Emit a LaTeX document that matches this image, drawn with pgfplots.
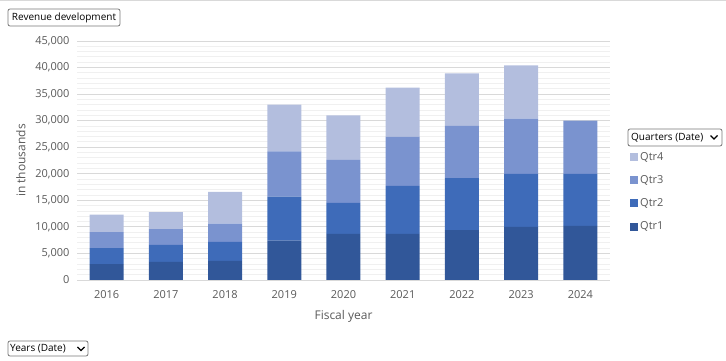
\documentclass[border=0pt]{standalone}
\usepackage{fontspec}
\setmainfont{Open Sans}
\usepackage{pgfplots}
\pgfplotsset{compat=1.18}
\definecolor{qa}{RGB}{49,87,153}
\definecolor{qb}{RGB}{62,107,185}
\definecolor{qc}{RGB}{122,147,207}
\definecolor{qd}{RGB}{179,190,222}
\definecolor{txt}{RGB}{89,89,89}
\definecolor{gmaj}{RGB}{217,217,217}
\definecolor{gmin}{RGB}{240,240,240}
\definecolor{btn}{RGB}{118,118,118}
\begin{document}
\begin{tikzpicture}[x=1pt,y=1pt]
\path[use as bounding box] (0,0) rectangle (726,361);
\draw[gmaj,line width=1pt] (0,360.5) -- (726,360.5);
\begin{axis}[
  at={(77pt,81pt)}, anchor=south west,
  scale only axis, width=533pt, height=239pt,
  ybar stacked, bar width=34pt,
  xmin=-0.5, xmax=8.5, ymin=0, ymax=45000,
  xtick={0,...,8},
  xticklabels={2016,2017,2018,2019,2020,2021,2022,2023,2024},
  ytick={0,5000,...,45000},
  minor y tick num=4,
  ymajorgrids, yminorgrids,
  major grid style={color=gmaj, line width=0.9pt},
  minor grid style={color=gmin, line width=0.9pt},
  axis line style={draw=none},
  major tick style={draw=none}, minor tick style={draw=none},
  scaled y ticks=false,
  ticklabel style={color=txt, font=\fontsize{11}{13}\selectfont},
  yticklabel style={xshift=-4pt},
  xticklabel style={yshift=-7pt},
  /pgf/number format/.cd, 1000 sep={,}, assume math mode=true, /pgfplots/.cd,
  xlabel={Fiscal year},
  xlabel style={color=txt, font=\fontsize{12}{14}\selectfont, yshift=-5pt},
  ylabel={in thousands},
  ylabel style={color=txt, font=\fontsize{12}{14}\selectfont, yshift=3pt},
  reverse legend,
  legend image code/.code={\fill[#1,draw=none] (0pt,-4pt) rectangle (8pt,4pt);},
  legend style={at={(1.032,0.553)}, anchor=north west, draw=none, fill=none,
    font=\fontsize{11}{13}\selectfont, text=txt, row sep=9.8pt,
    /tikz/every even column/.append style={column sep=0pt}},
  legend cell align=left,
]
\addplot[fill=qa, draw=none] coordinates {(0,3000) (1,3400) (2,3600) (3,7400) (4,8700) (5,8700) (6,9400) (7,10000) (8,10200)};
\addplot[fill=qb, draw=none] coordinates {(0,3000) (1,3200) (2,3600) (3,8300) (4,5800) (5,9000) (6,9800) (7,10000) (8,9800)};
\addplot[fill=qc, draw=none] coordinates {(0,3000) (1,3000) (2,3400) (3,8500) (4,8100) (5,9300) (6,9800) (7,10400) (8,10000)};
\addplot[fill=qd, draw=none] coordinates {(0,3300) (1,3200) (2,6000) (3,8800) (4,8400) (5,9200) (6,9900) (7,10000) (8,0)};
\legend{Qtr1,Qtr2,Qtr3,Qtr4}
\end{axis}
% buttons
\draw[btn, rounded corners=2pt, line width=0.8pt] (8,335) rectangle (120,352);
\node[font=\fontsize{10}{12}\selectfont, inner sep=0pt] at (64,343.5) {Revenue development};
\draw[btn, rounded corners=2pt, line width=0.8pt] (628,215) rectangle (722,232);
\node[font=\fontsize{10}{12}\selectfont, inner sep=0pt, anchor=west] at (631,223.5) {Quarters (Date)};
\draw[black, line width=1.2pt] (710.5,225.5) -- (714,222) -- (717.5,225.5);
\draw[btn, rounded corners=2pt, line width=0.8pt] (8,5) rectangle (88,20);
\node[font=\fontsize{10}{12}\selectfont, inner sep=0pt, anchor=west] at (10,12.5) {Years (Date)};
\draw[black, line width=1.2pt] (77.5,14) -- (81,10.5) -- (84.5,14);
\end{tikzpicture}
\end{document}
